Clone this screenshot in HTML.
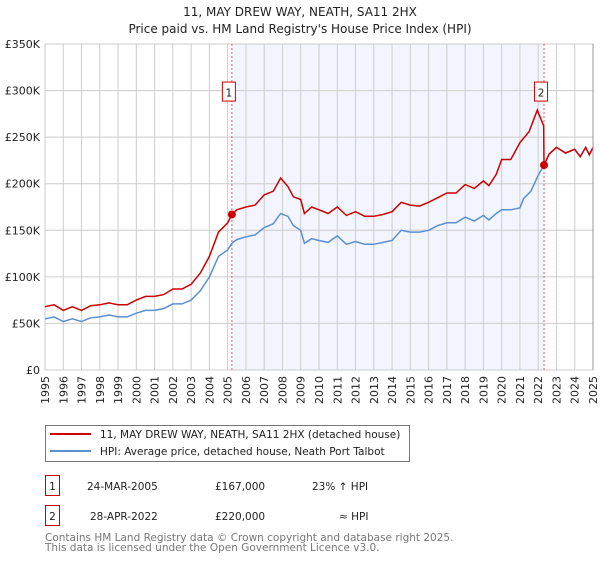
<!DOCTYPE html>
<html><head><meta charset="utf-8">
<style>
html,body{margin:0;padding:0;background:#fff;}
body{width:600px;height:560px;position:relative;font-family:"DejaVu Sans","Liberation Sans",sans-serif;overflow:hidden;}
svg text{font-family:"DejaVu Sans","Liberation Sans",sans-serif;}
</style></head>
<body>
<svg id="chart" width="600" height="560" xmlns="http://www.w3.org/2000/svg">
<text x="300" y="16" text-anchor="middle" font-size="12" fill="#222">11, MAY DREW WAY, NEATH, SA11 2HX</text>
<text x="300" y="33" text-anchor="middle" font-size="12" fill="#222">Price paid vs. HM Land Registry's House Price Index (HPI)</text>
<g id="plot"></g>
<g>
<rect x="45.5" y="425.5" width="364" height="36" fill="#fff" stroke="#777"/>
<line x1="50" y1="434" x2="91" y2="434" stroke="#cc0000" stroke-width="2"/>
<text x="100" y="438" font-size="10.5" fill="#222">11, MAY DREW WAY, NEATH, SA11 2HX (detached house)</text>
<line x1="50" y1="451" x2="91" y2="451" stroke="#5b8fd0" stroke-width="2"/>
<text x="100" y="455" font-size="10.5" fill="#222">HPI: Average price, detached house, Neath Port Talbot</text>
</g>
<g font-size="10.5" fill="#222">
<rect x="45.5" y="475.5" width="14" height="20" fill="#fff" stroke="#cc0000"/>
<text x="52.5" y="490" text-anchor="middle">1</text>
<text x="87" y="490">24-MAR-2005</text>
<text x="215" y="490">£167,000</text>
<text x="312" y="490">23% ↑ HPI</text>
</g>
<g font-size="10.5" fill="#222">
<rect x="45.5" y="505.5" width="14" height="20" fill="#fff" stroke="#cc0000"/>
<text x="52.5" y="520" text-anchor="middle">2</text>
<text x="90" y="520">28-APR-2022</text>
<text x="215" y="520">£220,000</text>
<text x="339" y="520">≈ HPI</text>
</g>
<text x="45" y="541" font-size="10.5" fill="#777">Contains HM Land Registry data © Crown copyright and database right 2025.</text>
<text x="45" y="551" font-size="10.5" fill="#777">This data is licensed under the Open Government Licence v3.0.</text>
</svg>
<script>
const yearTicks=[1995,1996,1997,1998,1999,2000,2001,2002,2003,2004,2005,2006,2007,2008,2009,2010,2011,2012,2013,2014,2015,2016,2017,2018,2019,2020,2021,2022,2023,2024,2025];
const priceTicks=[0,50000,100000,150000,200000,250000,300000,350000];
const priceTickLabels=["£0","£50K","£100K","£150K","£200K","£250K","£300K","£350K"];
const hpiTimes=[1995,1995.5,1996,1996.5,1997,1997.5,1998,1998.5,1999,1999.5,2000,2000.5,2001,2001.5,2002,2002.5,2003,2003.5,2004,2004.5,2005,2005.23,2005.5,2006,2006.5,2007,2007.5,2007.9,2008.3,2008.6,2009,2009.2,2009.6,2010,2010.5,2011,2011.5,2012,2012.5,2013,2013.5,2014,2014.5,2015,2015.5,2016,2016.5,2017,2017.5,2018,2018.5,2019,2019.3,2019.7,2020,2020.5,2021,2021.2,2021.6,2022,2022.32,2022.6,2023,2023.5,2024,2024.3,2024.6,2024.8,2025];
const hpiValues=[55000,57000,52000,55000,52000,56000,57000,59000,57000,57000,61000,64000,64000,66000,71000,71000,75000,85000,100000,122000,129000,136000,140000,143000,145000,153000,157000,168000,165000,155000,150000,136000,141000,139000,137000,144000,135000,138000,135000,135000,137000,139000,150000,148000,148000,150000,155000,158000,158000,164000,160000,166000,161000,168000,172000,172000,174000,184000,192000,209000,220000,232000,239000,233000,237000,229000,239000,231000,239000];
const saleTimes=[1995,1995.5,1996,1996.5,1997,1997.5,1998,1998.5,1999,1999.5,2000,2000.5,2001,2001.5,2002,2002.5,2003,2003.5,2004,2004.5,2005,2005.23,2005.5,2006,2006.5,2007,2007.5,2007.9,2008.3,2008.6,2009,2009.2,2009.6,2010,2010.5,2011,2011.5,2012,2012.5,2013,2013.5,2014,2014.5,2015,2015.5,2016,2016.5,2017,2017.5,2018,2018.5,2019,2019.3,2019.7,2020,2020.5,2021,2021.5,2021.95,2022.3,2022.32,2022.6,2023,2023.5,2024,2024.3,2024.6,2024.8,2025];
const saleValues=[68000,70000,64000,68000,64000,69000,70000,72000,70000,70000,75000,79000,79000,81000,87000,87000,92000,104000,122000,148000,158000,167000,172000,175000,177000,188000,192000,206000,197000,186000,183000,168000,175000,172000,168000,175000,166000,170000,165000,165000,167000,170000,180000,177000,176000,180000,185000,190000,190000,199000,195000,203000,198000,210000,226000,226000,244000,256000,279000,262000,220000,232000,239000,233000,237000,229000,239000,231000,239000];
const sales=[{label:"1",t:2005.23,v:167000},{label:"2",t:2022.32,v:220000}];

const L=45,R=593,T=44,B=370,x0=1995,x1=2025,vmax=350000;
const xs=t=>L+(t-x0)/(x1-x0)*(R-L);
const ys=v=>B-v/vmax*(B-T);
const NS="http://www.w3.org/2000/svg";
const plot=document.getElementById('plot');
function mk(tag,attrs,parent){const e=document.createElementNS(NS,tag);for(const k in attrs)e.setAttribute(k,attrs[k]);(parent||plot).appendChild(e);return e;}

const shade=mk('rect',{x:xs(sales[0].t),y:T,width:xs(sales[1].t)-xs(sales[0].t),height:B-T,fill:'#f2f5fd'});



yearTicks.forEach(y=>{
  const g=mk('line',{x1:xs(y),x2:xs(y),y1:T,y2:B,stroke:'#cccccc','stroke-width':1});
  
  
  const tx=mk('text',{x:0,y:0,'font-size':11,fill:'#222','text-anchor':'end',transform:`translate(${xs(y)+4},${B+6}) rotate(-90)`});
  tx.textContent=y;
  
  
});
priceTicks.forEach((v,i)=>{
  const g=mk('line',{x1:L,x2:R,y1:ys(v),y2:ys(v),stroke:'#cccccc','stroke-width':1});
  
  
  const tx=mk('text',{x:L-5,y:ys(v)+4,'font-size':11,fill:'#222','text-anchor':'end'});
  tx.textContent=priceTickLabels[i];
  
  
});
sales.forEach(s=>{
  const l=mk('line',{x1:xs(s.t),x2:xs(s.t),y1:T,y2:B,stroke:'#e06060','stroke-width':1,'stroke-dasharray':'2,2'});
  
  
});
function path(ts,vs){return ts.map((t,i)=>(i?'L':'M')+xs(t).toFixed(1)+','+ys(vs[i]).toFixed(1)).join('');}
const hp=mk('path',{d:path(hpiTimes,hpiValues),fill:'none',stroke:'#5b8fd0','stroke-width':1.5});


const sp=mk('path',{d:path(saleTimes,saleValues),fill:'none',stroke:'#cc0000','stroke-width':1.5});


sales.forEach(s=>{
  const c=mk('circle',{cx:xs(s.t),cy:ys(s.v),r:4,fill:'#cc0000'});
  
  
  const bx=xs(s.t)-10;
  const r=mk('rect',{x:bx+0.5,y:ys(300000)-8.5,width:13,height:19,fill:'#fff',stroke:'#cc0000'});
  
  
  const tx=mk('text',{x:bx+7,y:ys(300000)+6,'font-size':10.5,fill:'#222','text-anchor':'middle'});
  tx.textContent=s.label;
  
  
});
const ax=mk('line',{x1:R,x2:R,y1:T,y2:B,stroke:'#999','stroke-width':1});


</script>
</body></html>
